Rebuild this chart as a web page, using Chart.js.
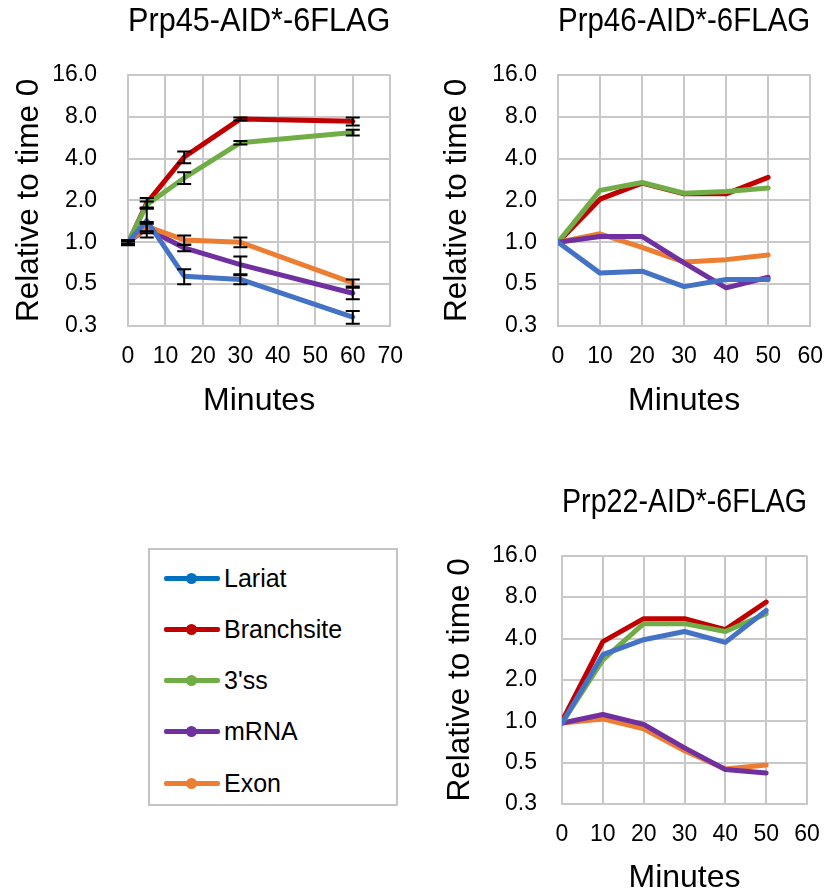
<!DOCTYPE html>
<html>
<head>
<meta charset="utf-8">
<script src="https://cdn.jsdelivr.net/npm/chart.js@4.4.1/dist/chart.umd.min.js"></script>
<style>
  html, body { margin: 0; padding: 0; background: #fff; overflow: hidden; }
  body { width: 840px; height: 894px; position: relative; font-family: 'Liberation Sans', Arial, sans-serif; }
  .cv { position: absolute; }
  #legend { position: absolute; left: 148px; top: 548px; width: 246px; height: 254px; border: 2px solid #C4C4C4; }
  .item { position: absolute; left: 14px; height: 30px; display: flex; align-items: center; }
  .sample { position: relative; width: 56px; height: 30px; margin-right: 4px; }
  .sample .ln { position: absolute; left: 0; top: 13px; width: 56px; height: 5px; border-radius: 2px; }
  .sample .dt { position: absolute; left: 22px; top: 10px; width: 11px; height: 11px; border-radius: 50%; }
  .item span { font-size: 25px; color: #000; }
</style>
</head>
<body>
<canvas id="c1" class="cv" width="420" height="430" style="left:0px;top:0px;width:420px;height:430px"></canvas>
<canvas id="c2" class="cv" width="420" height="430" style="left:420px;top:0px;width:420px;height:430px"></canvas>
<canvas id="c3" class="cv" width="420" height="430" style="left:420px;top:470px;width:420px;height:430px"></canvas>
<div id="legend"></div>
<script>
// ---------- data ----------
const seriesNames = ['Lariat', 'Branchsite', "3'ss", 'mRNA', 'Exon'];
const seriesColors = ['#4472C4', '#C00000', '#70AD47', '#7030A0', '#ED7D31'];
const legendColors = ['#0070C0', '#C00000', '#70AD47', '#7030A0', '#ED7D31'];

const yTickValues = [0.25, 0.5, 1, 2, 4, 8, 16];
const yTickLabels = ['0.3', '0.5', '1.0', '2.0', '4.0', '8.0', '16.0'];

// Prp45-AID*-6FLAG
const minutes45 = [0, 5, 15, 30, 60];
const lariat45 = [1.0, 1.43, 0.57, 0.54, 0.29];
const branch45 = [0.98, 1.91, 4.1, 7.7, 7.4];
const ss45     = [1.0, 1.86, 2.9, 5.2, 6.15];
const mrna45   = [1.0, 1.26, 0.91, 0.69, 0.43];
const exon45   = [1.0, 1.3, 1.04, 1.0, 0.51];
const lariatErr45 = [0.03, 0.35, 0.07, 0.04, 0.03];
const branchErr45 = [0.03, 0.17, 0.4, 0.2, 0.5];
const ssErr45     = [0.03, 0.1, 0.28, 0.15, 0.3];
const mrnaErr45   = [0.03, 0.1, 0.05, 0.1, 0.04];
const exonErr45   = [0.03, 0.1, 0.08, 0.08, 0.03];

// Prp46-AID*-6FLAG
const minutes46 = [0, 10, 20, 30, 40, 50];
const lariat46 = [1.0, 0.6, 0.62, 0.48, 0.54, 0.54];
const branch46 = [1.0, 2.04, 2.66, 2.23, 2.23, 2.93];
const ss46     = [1.0, 2.36, 2.69, 2.25, 2.32, 2.45];
const mrna46   = [1.0, 1.1, 1.1, 0.71, 0.47, 0.56];
const exon46   = [1.0, 1.15, 0.92, 0.72, 0.75, 0.81];

// Prp22-AID*-6FLAG
const minutes22 = [0, 10, 20, 30, 40, 50];
const lariat22 = [0.97, 3.05, 3.92, 4.5, 3.75, 6.4];
const branch22 = [1.0, 3.8, 5.58, 5.58, 4.64, 7.37];
const ss22     = [0.97, 2.8, 5.13, 5.13, 4.5, 6.06];
const mrna22   = [0.97, 1.12, 0.95, 0.64, 0.445, 0.42];
const exon22   = [0.97, 1.04, 0.88, 0.61, 0.45, 0.48];

// ---------- helpers ----------
const FONT = "'Liberation Sans', Arial, sans-serif";
const GRID = '#C8C8C8';

function pts(xs, ys) { return xs.map((x, i) => ({ x: x, y: ys[i] })); }

const errorBarPlugin = {
  id: 'errorBars',
  afterDatasetsDraw(chart, args, opts) {
    if (!opts || !opts.errors) return;
    const ctx = chart.ctx, xs = chart.scales.x, ys = chart.scales.y;
    ctx.save();
    ctx.strokeStyle = '#000';
    ctx.lineWidth = 2;
    chart.data.datasets.forEach((ds, i) => {
      const errs = opts.errors[i];
      if (!errs) return;
      ds.data.forEach((p, j) => {
        const e = errs[j];
        const x = xs.getPixelForValue(p.x);
        const yHi = ys.getPixelForValue(p.y + e);
        const yLo = ys.getPixelForValue(Math.max(p.y - e, 0.0001));
        ctx.beginPath();
        ctx.moveTo(x, yHi); ctx.lineTo(x, yLo);
        ctx.moveTo(x - 7, yHi); ctx.lineTo(x + 7, yHi);
        ctx.moveTo(x - 7, yLo); ctx.lineTo(x + 7, yLo);
        ctx.stroke();
      });
    });
    ctx.restore();
  }
};

function makeChart(id, cfg) {
  const datasets = cfg.values.map((vals, i) => ({
    label: seriesNames[i],
    data: pts(cfg.minutes, vals),
    borderColor: seriesColors[i],
    backgroundColor: seriesColors[i],
    borderWidth: 5,
    pointRadius: 0,
    borderJoinStyle: 'round',
    borderCapStyle: 'round',
    tension: 0,
    order: cfg.order[i]
  }));
  return new Chart(document.getElementById(id), {
    type: 'line',
    data: { datasets: datasets },
    plugins: [errorBarPlugin],
    options: {
      responsive: false,
      animation: false,
      devicePixelRatio: 1,
      layout: { padding: cfg.padding },
      plugins: {
        legend: { display: false },
        tooltip: { enabled: false },
        title: {
          display: true, text: cfg.title, color: '#000', fullSize: false,
          font: { family: FONT, size: 32.5, weight: 'normal', lineHeight: 1.1 },
          padding: { top: 0, bottom: cfg.titleGap }
        },
        errorBars: { errors: cfg.errors }
      },
      scales: {
        x: {
          type: 'linear', min: 0, max: cfg.xMax,
          ticks: { stepSize: 10, color: '#000', padding: cfg.xTickPad, font: { family: FONT, size: 23 }, maxRotation: 0, autoSkip: false },
          grid: { color: GRID, lineWidth: 2, drawTicks: false },
          border: { color: GRID, width: 2 },
          title: { display: true, text: 'Minutes', color: '#000', font: { family: FONT, size: 32, lineHeight: 1.2 }, padding: { top: 0, bottom: cfg.xTitlePad } },
          afterFit(s) { s.height = cfg.xAxisH; }
        },
        y: {
          type: 'logarithmic', min: 0.25, max: 16,
          afterBuildTicks(s) { s.ticks = yTickValues.map(v => ({ value: v })); },
          ticks: {
            color: '#000', padding: cfg.yTickPad, font: { family: FONT, size: 23 },
            callback: (v) => yTickLabels[yTickValues.indexOf(v)]
          },
          grid: { color: GRID, lineWidth: 2, drawTicks: false },
          border: { color: GRID, width: 2 },
          title: { display: true, text: 'Relative to time 0', color: '#000', font: { family: FONT, size: 31.5, lineHeight: 1.2 }, padding: { top: cfg.yTitlePad, bottom: 0 } },
          afterFit(s) { s.width = cfg.yAxisW; }
        }
      }
    }
  });
}

makeChart('c1', {
  title: 'Prp45-AID*-6FLAG', minutes: minutes45, xMax: 70,
  values: [lariat45, branch45, ss45, mrna45, exon45],
  errors: [lariatErr45, branchErr45, ssErr45, mrnaErr45, exonErr45],
  order: [0, 4, 3, 2, 1],
  padding: { top: 4, left: 0, right: 27, bottom: 0 },
  titleGap: 35, yAxisW: 128, xAxisH: 104, xTickPad: 17, xTitlePad: 10, yTickPad: 31, yTitlePad: 10
});

makeChart('c2', {
  title: 'Prp46-AID*-6FLAG', minutes: minutes46, xMax: 60,
  values: [lariat46, branch46, ss46, mrna46, exon46],
  errors: null,
  order: [0, 4, 3, 1, 2],
  padding: { top: 4, left: 0, right: 16, bottom: 0 },
  titleGap: 35, yAxisW: 138, xAxisH: 104, xTickPad: 17, xTitlePad: 10, yTickPad: 21, yTitlePad: 18
});

makeChart('c3', {
  title: 'Prp22-AID*-6FLAG', minutes: minutes22, xMax: 60,
  values: [lariat22, branch22, ss22, mrna22, exon22],
  errors: null,
  order: [0, 2, 1, 3, 4],
  padding: { top: 15, left: 0, right: 33, bottom: 0 },
  titleGap: 35, yAxisW: 142, xAxisH: 96, xTickPad: 17, xTitlePad: 3, yTickPad: 25, yTitlePad: 21
});

// ---------- legend ----------
const legend = document.getElementById('legend');
const legendTops = [13, 64, 115, 166, 218];
seriesNames.forEach((name, i) => {
  const it = document.createElement('div');
  it.className = 'item';
  it.style.top = legendTops[i] + 'px';
  it.innerHTML = '<div class="sample"><div class="ln" style="background:' + legendColors[i] + '"></div><div class="dt" style="background:' + legendColors[i] + '"></div></div><span>' + name + '</span>';
  legend.appendChild(it);
});
</script>
</body>
</html>
